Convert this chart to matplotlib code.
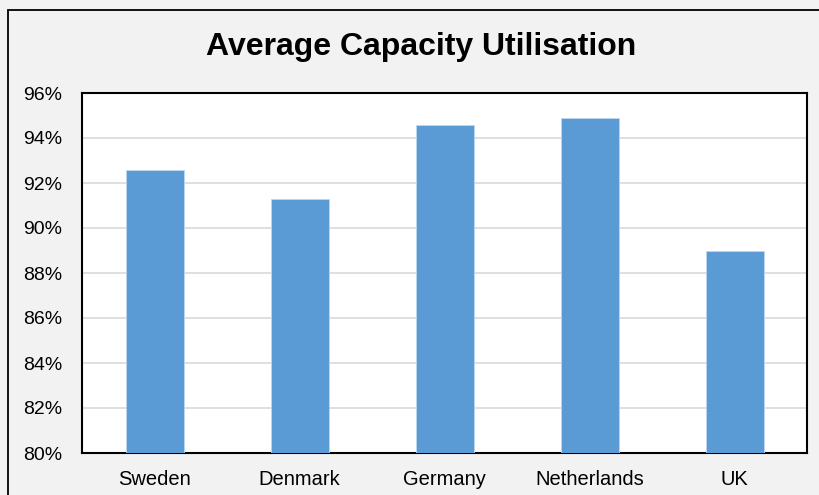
import matplotlib
matplotlib.use("Agg")
import matplotlib.pyplot as plt
from matplotlib.patches import Rectangle
from matplotlib.ticker import FuncFormatter, MultipleLocator

countries = ["Sweden", "Denmark", "Germany", "Netherlands", "UK"]
utilisation = [92.6, 91.3, 94.6, 94.9, 89.0]

plt.rcParams["font.family"] = ["Liberation Sans", "DejaVu Sans"]

W, H = 819, 495
fig = plt.figure(figsize=(W / 100, H / 100), dpi=100, facecolor="#f2f2f2")

# outer chart frame (runs off the right and bottom edges)
fig.patches.append(Rectangle((8 / W, -0.05), 1.2, 1 - 10 / H + 0.05,
                             transform=fig.transFigure, fill=False,
                             edgecolor="black", linewidth=1.3, zorder=0))

ax = fig.add_axes([82 / W, (H - 453) / H, 725 / W, 360 / H])
ax.set_facecolor("white")

x = range(len(countries))
ax.bar(x, utilisation, width=0.4, color="#5b9bd5", edgecolor="#bdd7ee",
       linewidth=0.6, zorder=3)

ax.set_xlim(-0.5, len(countries) - 0.5)
ax.set_ylim(80, 96)
ax.yaxis.set_major_locator(MultipleLocator(2))
ax.yaxis.set_major_formatter(FuncFormatter(lambda v, p: f"{v:.0f}%"))
ax.set_xticks(list(x))
ax.set_xticklabels(countries)

ax.grid(axis="y", color="#d9d9d9", linewidth=1.2, zorder=0)
ax.tick_params(axis="both", length=0, colors="black")
ax.tick_params(axis="y", pad=14, labelsize=14)
ax.tick_params(axis="x", pad=12, labelsize=14.5)

for s in ax.spines.values():
    s.set_color("black")
    s.set_linewidth(1.5)

fig.text(421 / W, 1 - 47 / H, "Average Capacity Utilisation",
         ha="center", va="center", fontsize=23, fontweight="bold")

fig.savefig("out.png", dpi=100, facecolor=fig.get_facecolor())
